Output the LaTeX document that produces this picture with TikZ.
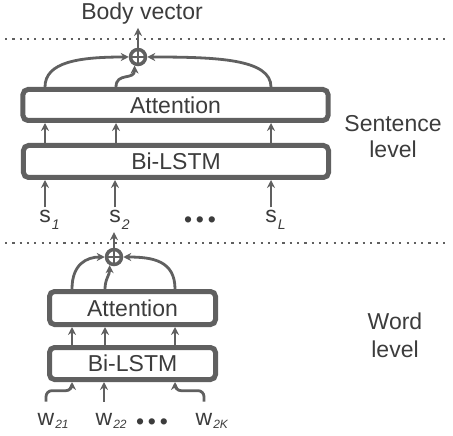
\documentclass[tikz,border=0pt]{standalone}
\usepackage{fontspec}
\setmainfont{Liberation Sans}
\usetikzlibrary{arrows.meta,calc}
\definecolor{linecol}{RGB}{96,96,96}
\definecolor{textcol}{RGB}{60,60,60}
\newcommand\lowsub[3]{\rlap{\raisebox{-#1}{\fontsize{#2}{#2}\selectfont\itshape\kern1bp #3}}}
\begin{document}
\begin{tikzpicture}[x=1bp,y=-1bp,
  every node/.style={font=\fontsize{23bp}{27bp}\selectfont, text=textcol},
  layerbox/.style={draw=linecol, line width=5bp, rounded corners=5bp, inner sep=0pt},
  arr/.style={draw=linecol, line width=2.8bp, -{Stealth[length=8bp,width=8bp]}},
  plus/.style={circle, draw=linecol, line width=3.5bp, minimum size=15bp, inner sep=0pt,
    path picture={\draw[linecol, line width=2.4bp]
      (path picture bounding box.north) -- (path picture bounding box.south)
      (path picture bounding box.west) -- (path picture bounding box.east);}},
  sep/.style={draw=linecol, line width=2.2bp, dash pattern=on 2.2bp off 5.1bp},
  lab/.style={inner sep=3bp, anchor=base}
]
\useasboundingbox (0,0) rectangle (453,436);

% separators
\draw[sep] (5,39) -- (450,39);
\draw[sep] (5,243) -- (450,243);

% columns
\coordinate (a1) at (45,0);
\coordinate (a2) at (116,0);
\coordinate (a3) at (271,0);
\coordinate (b1) at (72,0);
\coordinate (b2) at (105,0);
\coordinate (b3) at (175,0);

% sentence level
\node[lab] (body) at (142,20) {Body vector};
\node[plus] (o1) at (138,57) {};
\node[layerbox, minimum width=305bp, minimum height=31bp] (att1) at (175.5,105) {Attention};
\node[layerbox, minimum width=305bp, minimum height=32bp] (bl1) at (176,161.5) {Bi-LSTM};
\node[lab] (s1) at (45,223) {s\lowsub{6bp}{14bp}{1}};
\node[lab] (s2) at (115,223) {s\lowsub{6bp}{14bp}{2}};
\node[lab] (sd) at (200,223) {\raisebox{-4bp}{•\,•\,•}};
\node[lab] (sL) at (271,223) {s\lowsub{6bp}{14bp}{L}};
\node[lab] (sentA) at (393,132) {Sentence};
\node[lab] (sentB) at (393,158) {level};

\draw[arr] (o1.north) -- (o1.north |- body.south);
\draw[arr] (att1.north -| a1) .. controls +(0,-25) and +(-50,0) .. (o1.west);
\draw[arr] (att1.north -| a3) .. controls +(0,-28) and +(70,0) .. (o1.east);
\draw[arr] (att1.north -| a2) .. controls +(0,-15) and +(0,15) .. (o1.-112);
\foreach \c in {a1,a2,a3}{\draw[arr] (bl1.north -| \c) -- (att1.south -| \c);}
\draw[arr] (s1.north) -- (bl1.south -| s1.north);
\draw[arr] (s2.north) -- (bl1.south -| s2.north);
\draw[arr] (sL.north) -- (bl1.south -| sL.north);

% word level
\node[plus] (o2) at (114,257) {};
\node[layerbox, minimum width=166bp, minimum height=33bp] (att2) at (132.5,308) {Attention};
\node[layerbox, minimum width=166bp, minimum height=32bp] (bl2) at (132.5,363.5) {Bi-LSTM};
\node[lab] (w21) at (46,425) {w\lowsub{3bp}{12bp}{21}};
\node[lab] (w22) at (104,425) {w\lowsub{3bp}{12bp}{22}};
\node[lab] (wd) at (152,425) {\raisebox{-4bp}{•\,•\,•}};
\node[lab] (w2K) at (204,425) {w\lowsub{3bp}{12bp}{2K}};
\node[lab] (wordA) at (395,329) {Word};
\node[lab] (wordB) at (395,357) {level};

\draw[arr] (o2.north) -- (o2.north |- s2.south);
\draw[arr] (att2.north -| b1) .. controls +(0,-25) and +(-18,0) .. (o2.west);
\draw[arr] (att2.north -| b3) .. controls +(0,-28) and +(30,0) .. (o2.east);
\draw[arr] (att2.north -| b2) .. controls +(0,-10) and +(0,10) .. (o2.-118);
\foreach \c in {b1,b2,b3}{\draw[arr] (bl2.north -| \c) -- (att2.south -| \c);}
\draw[arr, rounded corners=6bp] ([yshift=8bp]w21.north) -- ++(0,-11) -| (bl2.south -| b1);
\draw[arr] ([yshift=8bp]w22.north) -- (bl2.south -| w22.north);
\draw[arr, rounded corners=6bp] ([yshift=8bp]w2K.north) -- ++(0,-11) -| (bl2.south -| b3);
\end{tikzpicture}
\end{document}
